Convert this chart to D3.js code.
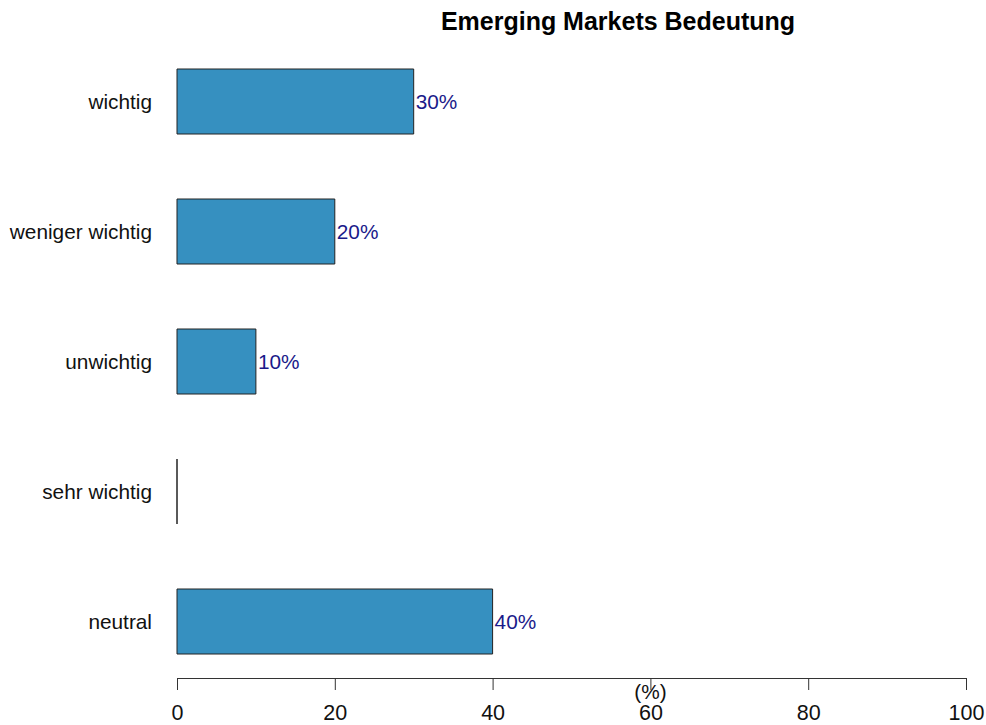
<!DOCTYPE html>
<html><head><meta charset="utf-8">
<script src="https://cdn.jsdelivr.net/npm/d3@7"></script>
<style>body{margin:0;background:#fff}svg{display:block}text{font-family:"Liberation Sans",Arial,sans-serif}</style>
</head><body>
<svg id="c" width="986" height="725"></svg>
<script>
const categories = ["wichtig","weniger wichtig","unwichtig","sehr wichtig","neutral"];
const values = [30,20,10,0,40];
const ticks = [0,20,40,60,80,100];
const title = "Emerging Markets Bedeutung";
const axisLabel = "(%)";

const svg = d3.select("#c");
const x = d3.scaleLinear().domain([0,100]).range([177,966]);
const y = d3.scaleBand().domain(categories).range([36.5,686.5]).paddingInner(0.5).paddingOuter(0.25);

svg.append("text").attr("x",618).attr("y",30).attr("text-anchor","middle")
  .attr("font-size",25).attr("font-weight","bold").text(title);

svg.selectAll("path.bar").data(categories).enter().append("path")
  .attr("d",(d,i)=>{const x0=x(0),w=x(values[i])-x(0),y0=y(d),h=y.bandwidth();
    return `M${x0},${y0}h${w}v${h}h${-w}Z`;})
  .attr("fill","#3690C0").attr("stroke","#222").attr("stroke-width",1);

svg.selectAll("text.cat").data(categories).enter().append("text")
  .attr("x",152).attr("y",d=>y(d)+y.bandwidth()/2).attr("dy","0.35em")
  .attr("text-anchor","end").attr("font-size",20.8).attr("fill","#111").text(d=>d);

svg.selectAll("text.val").data(categories.filter((d,i)=>values[i]>0)).enter().append("text")
  .attr("x",d=>x(values[categories.indexOf(d)])+2).attr("y",d=>y(d)+y.bandwidth()/2).attr("dy","0.35em")
  .attr("font-size",20.8).attr("fill","#1a1a8a").text(d=>values[categories.indexOf(d)]+"%");

const axis = d3.axisBottom(x).tickValues(ticks).tickSize(12).tickSizeOuter(0).tickPadding(15);
const g = svg.append("g").attr("transform","translate(0,678)").call(axis);
g.select(".domain").attr("stroke","#333");
g.selectAll(".tick line").attr("stroke","#333");
g.selectAll(".tick text").attr("font-size",21.5).attr("fill","#111").attr("font-family","Liberation Sans, Arial, sans-serif");

svg.append("text").attr("x",x(60)).attr("y",699).attr("text-anchor","middle")
  .attr("font-size",20.8).attr("fill","#111").text(axisLabel);
</script>
</body></html>
